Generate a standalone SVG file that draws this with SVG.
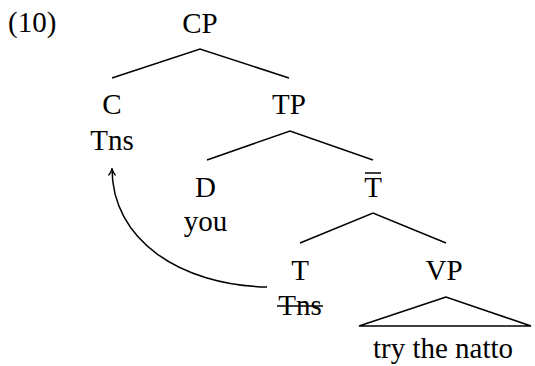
<svg xmlns="http://www.w3.org/2000/svg" width="535" height="366" viewBox="0 0 535 366">
<style>
text{font-family:"Liberation Serif","Times New Roman",serif;font-size:29px;fill:#000;text-anchor:middle}
.e{stroke:#000;stroke-width:1.5;fill:none}
</style>
<defs>
<marker id="ah" viewBox="0 0 10 10" refX="9" refY="5" markerWidth="10" markerHeight="10" markerUnits="userSpaceOnUse" orient="auto">
<path d="M2,1.5 Q5,4 9,5 Q5,6 2,8.5" fill="none" stroke="#000" stroke-width="1.2"/>
</marker>
</defs>
<rect width="535" height="366" fill="#fff"/>
<text x="8" y="32" style="text-anchor:start">(10)</text>
<g id="connectors">
<polyline class="e" points="112,78 200,49 289,78"/>
<polyline class="e" points="207,160 290,131 373,160"/>
<polyline class="e" points="300,243 373,213 446,243"/>
<polygon class="e" points="446,297 359,326 531,326"/>
<path class="e" d="M267,287 C180,285 112,240 112,168.5" marker-end="url(#ah)"/>
</g>
<g id="CP"><text x="200" y="33">CP</text></g>
<g id="C"><text x="112" y="114">C</text><text x="112" y="150">Tns</text></g>
<g id="TP"><text x="289" y="114">TP</text></g>
<g id="D"><text x="205.5" y="197">D</text><text x="205.5" y="231">you</text></g>
<g id="Tbar"><text x="373" y="197">T</text><line class="e" x1="365" y1="173" x2="381" y2="173"/></g>
<g id="T"><text x="300" y="280">T</text><text x="300" y="315">Tns</text><line class="e" x1="277" y1="306" x2="323" y2="306"/></g>
<g id="VP"><text x="444" y="280">VP</text><text x="443" y="358">try the natto</text></g>
</svg>
